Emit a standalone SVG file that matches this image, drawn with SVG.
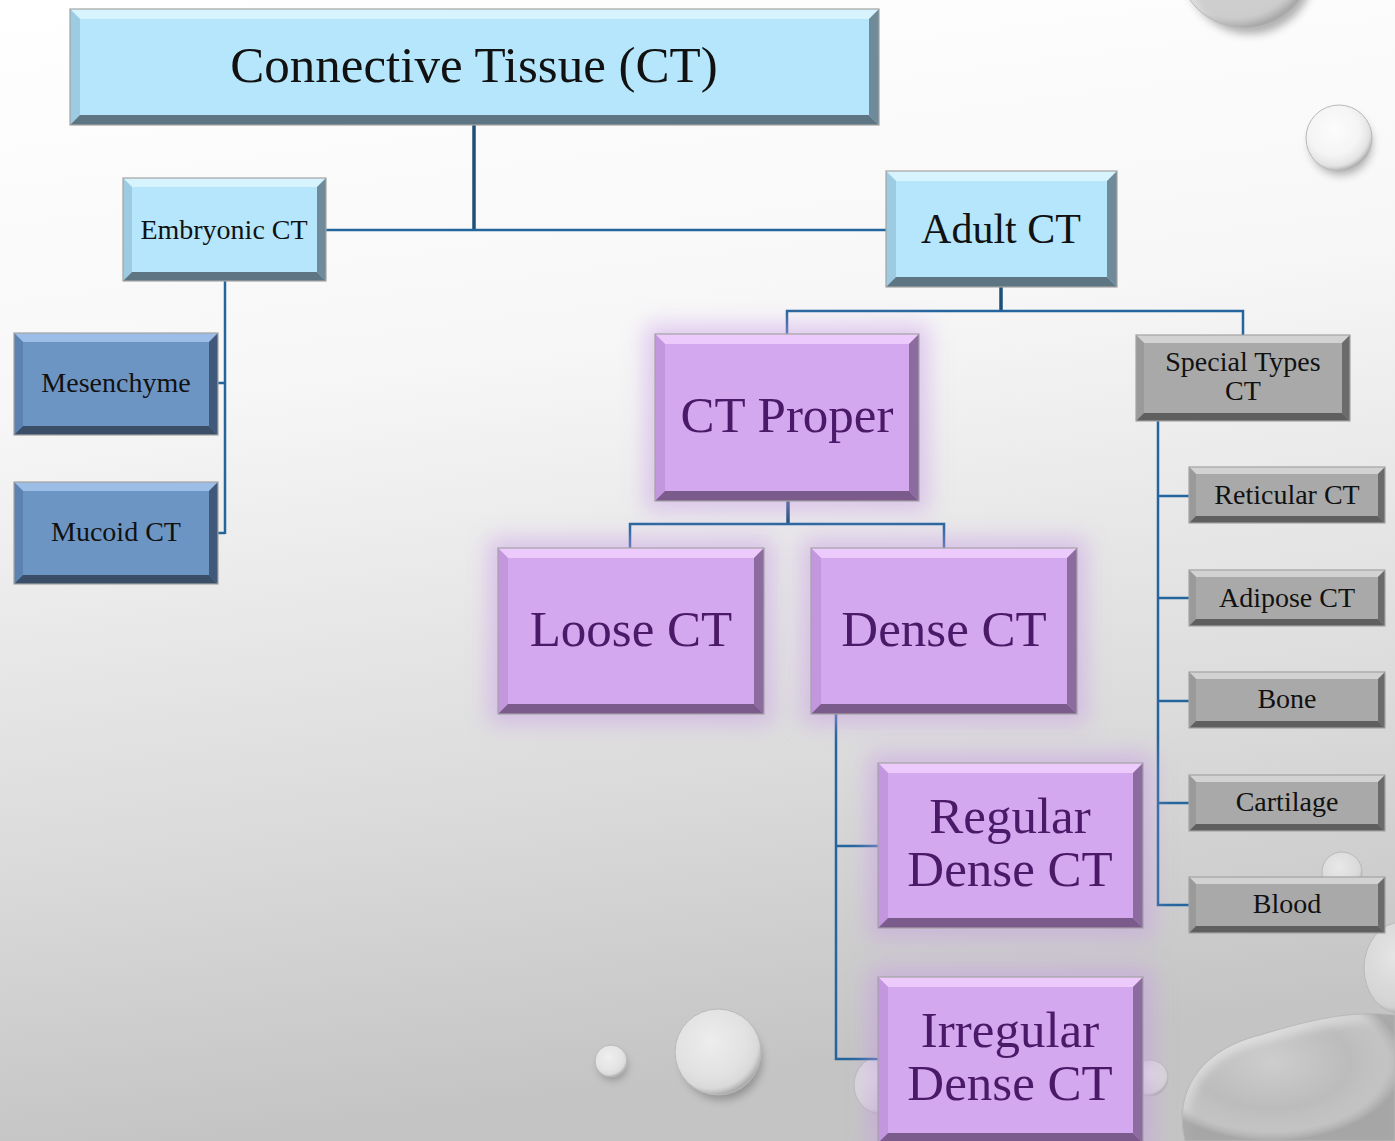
<svg xmlns="http://www.w3.org/2000/svg" width="1395" height="1141" viewBox="0 0 1395 1141">
<defs>
<linearGradient id="bg" x1="0" y1="0" x2="0.15" y2="1">
<stop offset="0" stop-color="#ffffff"/>
<stop offset="0.35" stop-color="#f7f7f7"/>
<stop offset="0.75" stop-color="#dadada"/>
<stop offset="1" stop-color="#c4c4c4"/>
</linearGradient>
<radialGradient id="bub" cx="0.42" cy="0.38" r="0.62">
<stop offset="0" stop-color="#ffffff" stop-opacity="0.55"/>
<stop offset="0.6" stop-color="#f0f0f0" stop-opacity="0.45"/>
<stop offset="0.88" stop-color="#d8d8d8" stop-opacity="0.7"/>
<stop offset="1" stop-color="#a8a8a8" stop-opacity="0.9"/>
</radialGradient>
<filter id="blur6" x="-50%" y="-50%" width="200%" height="200%"><feGaussianBlur stdDeviation="4"/></filter>
<filter id="glow" x="-30%" y="-30%" width="160%" height="160%"><feGaussianBlur stdDeviation="11"/></filter>
<style>
.lb{fill:#b6e6fb}.lb .t{fill:#d6f3fe}.lb .l{fill:#9ccbe2}.lb .r{fill:#6f8a99}.lb .b{fill:#5e7683}
.db{fill:#6d95c4}.db .t{fill:#9cbde5}.db .l{fill:#5b82b0}.db .r{fill:#40597a}.db .b{fill:#3a4e68}
.pu{fill:#d4a8ef}.pu .t{fill:#eccafb}.pu .l{fill:#c297dd}.pu .r{fill:#8c6c9e}.pu .b{fill:#7a5b8c}
.gr{fill:#a9a9a9}.gr .t{fill:#d2d2d2}.gr .l{fill:#9a9a9a}.gr .r{fill:#6b6b6b}.gr .b{fill:#5f5f5f}
.edge{fill:none;stroke:#a3a3a3;stroke-width:1.2}
.txt{font-family:"Liberation Serif","Times New Roman",serif;text-anchor:middle;fill:#111}
.big{font-size:51px;fill:#4a1a68}
.sm{font-size:28px}
.cn{fill:none;stroke:#23659c;stroke-width:2.5}
.cn2{fill:none;stroke:#1d4f78;stroke-width:3.5}
.halo{fill:#c99ce8;opacity:0.5}
.shd{fill:#555;opacity:0.45}
.bb{fill:url(#bub);stroke:#b9b9b9;stroke-width:1}
</style>
</defs>
<rect width="1395" height="1141" fill="url(#bg)"/>
<g id="bubbles">
<ellipse class="shd" cx="1250" cy="-30" rx="64" ry="64" filter="url(#blur6)"/>
<circle class="bb" cx="1245" cy="-40" r="68" fill="#f7f7f7"/>
<ellipse class="shd" cx="1341" cy="144" rx="31" ry="31" filter="url(#blur6)"/>
<circle cx="1339" cy="138" r="33" fill="#f9f9f9"/>
<circle class="bb" cx="1339" cy="138" r="33"/>
<ellipse class="shd" cx="613" cy="1066" rx="14" ry="14" filter="url(#blur6)"/>
<circle cx="611" cy="1061" r="16" fill="#dcdcdc"/>
<circle class="bb" cx="611" cy="1061" r="16"/>
<ellipse class="shd" cx="722" cy="1060" rx="40" ry="40" filter="url(#blur6)"/>
<circle cx="718" cy="1052" r="43" fill="#d8d8d8"/>
<circle class="bb" cx="718" cy="1052" r="43"/>
<circle class="bb" cx="1342" cy="872" r="20" fill="#d8d8d8"/>
<circle class="bb" cx="884" cy="1085" r="30"/>
<circle class="bb" cx="1150" cy="1078" r="18"/>
<ellipse class="bb" cx="1402" cy="968" rx="38" ry="46"/>
<path class="shd" filter="url(#blur6)" d="M1192,1141 C1180,1095 1205,1055 1265,1042 C1315,1028 1355,1018 1395,1023 L1395,1141 Z"/>
<path class="bb" d="M1185,1141 C1173,1092 1200,1050 1260,1035 C1310,1020 1350,1010 1395,1015 L1395,1141 Z"/>
</g>
<g id="connectors">
<path class="cn2" d="M474,125 V231"/>
<path class="cn" d="M326,230 H886"/>
<path class="cn" d="M225,281 V534 M217,383 H225 M217,533 H225"/>
<path class="cn2" d="M1001,287 V312"/>
<path class="cn" d="M787,334 V311 H1243 V335"/>
<path class="cn2" d="M788,501 V525"/>
<path class="cn" d="M630,548 V524 H944 V548"/>
<path class="cn" d="M836,714 V1059 H878 M836,846 H878"/>
<path class="cn" d="M1158,421 V905 H1189 M1158,496 H1189 M1158,598 H1189 M1158,701 H1189 M1158,803 H1189"/>
</g>
<g id="n-ct" class="lb">
<rect x="70" y="9" width="809" height="116"/>
<polygon class="t" points="70,9 879,9 869,19 80,19"/>
<polygon class="l" points="70,9 80,19 80,115 70,125"/>
<polygon class="r" points="879,9 879,125 869,115 869,19"/>
<polygon class="b" points="70,125 879,125 869,115 80,115"/>
<rect class="edge" x="70" y="9" width="809" height="116"/>
<text class="txt" x="474" y="82" font-size="51">Connective Tissue (CT)</text>
</g>
<g id="n-embryonic" class="lb">
<rect x="123" y="178" width="203" height="103"/>
<polygon class="t" points="123,178 326,178 317,187 132,187"/>
<polygon class="l" points="123,178 132,187 132,272 123,281"/>
<polygon class="r" points="326,178 326,281 317,272 317,187"/>
<polygon class="b" points="123,281 326,281 317,272 132,272"/>
<rect class="edge" x="123" y="178" width="203" height="103"/>
<text class="txt sm" x="224" y="239">Embryonic CT</text>
</g>
<g id="n-adult" class="lb">
<rect x="886" y="171" width="231" height="116"/>
<polygon class="t" points="886,171 1117,171 1107,181 896,181"/>
<polygon class="l" points="886,171 896,181 896,277 886,287"/>
<polygon class="r" points="1117,171 1117,287 1107,277 1107,181"/>
<polygon class="b" points="886,287 1117,287 1107,277 896,277"/>
<rect class="edge" x="886" y="171" width="231" height="116"/>
<text class="txt" x="1001" y="243" font-size="42">Adult CT</text>
</g>
<g id="n-mesenchyme" class="db">
<rect x="14" y="333" width="204" height="102"/>
<polygon class="t" points="14,333 218,333 209,342 23,342"/>
<polygon class="l" points="14,333 23,342 23,426 14,435"/>
<polygon class="r" points="218,333 218,435 209,426 209,342"/>
<polygon class="b" points="14,435 218,435 209,426 23,426"/>
<rect class="edge" x="14" y="333" width="204" height="102"/>
<text class="txt sm" x="116" y="392">Mesenchyme</text>
</g>
<g id="n-mucoid" class="db">
<rect x="14" y="482" width="204" height="102"/>
<polygon class="t" points="14,482 218,482 209,491 23,491"/>
<polygon class="l" points="14,482 23,491 23,575 14,584"/>
<polygon class="r" points="218,482 218,584 209,575 209,491"/>
<polygon class="b" points="14,584 218,584 209,575 23,575"/>
<rect class="edge" x="14" y="482" width="204" height="102"/>
<text class="txt sm" x="116" y="541">Mucoid CT</text>
</g>
<g id="n-proper" class="pu">
<rect class="halo" x="645" y="324" width="284" height="187" filter="url(#glow)"/>
<rect x="655" y="334" width="264" height="167"/>
<polygon class="t" points="655,334 919,334 909,344 665,344"/>
<polygon class="l" points="655,334 665,344 665,491 655,501"/>
<polygon class="r" points="919,334 919,501 909,491 909,344"/>
<polygon class="b" points="655,501 919,501 909,491 665,491"/>
<rect class="edge" x="655" y="334" width="264" height="167"/>
<text class="txt big" x="787" y="432">CT Proper</text>
</g>
<g id="n-loose" class="pu">
<rect class="halo" x="488" y="538" width="286" height="186" filter="url(#glow)"/>
<rect x="498" y="548" width="266" height="166"/>
<polygon class="t" points="498,548 764,548 754,558 508,558"/>
<polygon class="l" points="498,548 508,558 508,704 498,714"/>
<polygon class="r" points="764,548 764,714 754,704 754,558"/>
<polygon class="b" points="498,714 764,714 754,704 508,704"/>
<rect class="edge" x="498" y="548" width="266" height="166"/>
<text class="txt big" x="631" y="646">Loose CT</text>
</g>
<g id="n-dense" class="pu">
<rect class="halo" x="801" y="538" width="286" height="186" filter="url(#glow)"/>
<rect x="811" y="548" width="266" height="166"/>
<polygon class="t" points="811,548 1077,548 1067,558 821,558"/>
<polygon class="l" points="811,548 821,558 821,704 811,714"/>
<polygon class="r" points="1077,548 1077,714 1067,704 1067,558"/>
<polygon class="b" points="811,714 1077,714 1067,704 821,704"/>
<rect class="edge" x="811" y="548" width="266" height="166"/>
<text class="txt big" x="944" y="646">Dense CT</text>
</g>
<g id="n-regular" class="pu">
<rect class="halo" x="868" y="753" width="285" height="185" filter="url(#glow)"/>
<rect x="878" y="763" width="265" height="165"/>
<polygon class="t" points="878,763 1143,763 1133,773 888,773"/>
<polygon class="l" points="878,763 888,773 888,918 878,928"/>
<polygon class="r" points="1143,763 1143,928 1133,918 1133,773"/>
<polygon class="b" points="878,928 1143,928 1133,918 888,918"/>
<rect class="edge" x="878" y="763" width="265" height="165"/>
<text class="txt big" x="1010" y="833">Regular</text>
<text class="txt big" x="1010" y="886">Dense CT</text>
</g>
<g id="n-irregular" class="pu">
<rect class="halo" x="868" y="967" width="285" height="186" filter="url(#glow)"/>
<rect x="878" y="977" width="265" height="166"/>
<polygon class="t" points="878,977 1143,977 1133,987 888,987"/>
<polygon class="l" points="878,977 888,987 888,1133 878,1143"/>
<polygon class="r" points="1143,977 1143,1143 1133,1133 1133,987"/>
<polygon class="b" points="878,1143 1143,1143 1133,1133 888,1133"/>
<rect class="edge" x="878" y="977" width="265" height="166"/>
<text class="txt big" x="1010" y="1047">Irregular</text>
<text class="txt big" x="1010" y="1100">Dense CT</text>
</g>
<g id="n-special" class="gr">
<rect x="1136" y="335" width="214" height="86"/>
<polygon class="t" points="1136,335 1350,335 1342,343 1144,343"/>
<polygon class="l" points="1136,335 1144,343 1144,413 1136,421"/>
<polygon class="r" points="1350,335 1350,421 1342,413 1342,343"/>
<polygon class="b" points="1136,421 1350,421 1342,413 1144,413"/>
<rect class="edge" x="1136" y="335" width="214" height="86"/>
<text class="txt sm" x="1243" y="371">Special Types</text>
<text class="txt sm" x="1243" y="400">CT</text>
</g>
<g id="n-reticular" class="gr">
<rect x="1189" y="467" width="196" height="56"/>
<polygon class="t" points="1189,467 1385,467 1378,474 1196,474"/>
<polygon class="l" points="1189,467 1196,474 1196,516 1189,523"/>
<polygon class="r" points="1385,467 1385,523 1378,516 1378,474"/>
<polygon class="b" points="1189,523 1385,523 1378,516 1196,516"/>
<rect class="edge" x="1189" y="467" width="196" height="56"/>
<text class="txt sm" x="1287" y="504">Reticular CT</text>
</g>
<g id="n-adipose" class="gr">
<rect x="1189" y="570" width="196" height="56"/>
<polygon class="t" points="1189,570 1385,570 1378,577 1196,577"/>
<polygon class="l" points="1189,570 1196,577 1196,619 1189,626"/>
<polygon class="r" points="1385,570 1385,626 1378,619 1378,577"/>
<polygon class="b" points="1189,626 1385,626 1378,619 1196,619"/>
<rect class="edge" x="1189" y="570" width="196" height="56"/>
<text class="txt sm" x="1287" y="607">Adipose CT</text>
</g>
<g id="n-bone" class="gr">
<rect x="1189" y="672" width="196" height="56"/>
<polygon class="t" points="1189,672 1385,672 1378,679 1196,679"/>
<polygon class="l" points="1189,672 1196,679 1196,721 1189,728"/>
<polygon class="r" points="1385,672 1385,728 1378,721 1378,679"/>
<polygon class="b" points="1189,728 1385,728 1378,721 1196,721"/>
<rect class="edge" x="1189" y="672" width="196" height="56"/>
<text class="txt sm" x="1287" y="708">Bone</text>
</g>
<g id="n-cartilage" class="gr">
<rect x="1189" y="775" width="196" height="56"/>
<polygon class="t" points="1189,775 1385,775 1378,782 1196,782"/>
<polygon class="l" points="1189,775 1196,782 1196,824 1189,831"/>
<polygon class="r" points="1385,775 1385,831 1378,824 1378,782"/>
<polygon class="b" points="1189,831 1385,831 1378,824 1196,824"/>
<rect class="edge" x="1189" y="775" width="196" height="56"/>
<text class="txt sm" x="1287" y="811">Cartilage</text>
</g>
<g id="n-blood" class="gr">
<rect x="1189" y="877" width="196" height="56"/>
<polygon class="t" points="1189,877 1385,877 1378,884 1196,884"/>
<polygon class="l" points="1189,877 1196,884 1196,926 1189,933"/>
<polygon class="r" points="1385,877 1385,933 1378,926 1378,884"/>
<polygon class="b" points="1189,933 1385,933 1378,926 1196,926"/>
<rect class="edge" x="1189" y="877" width="196" height="56"/>
<text class="txt sm" x="1287" y="913">Blood</text>
</g>
</svg>
